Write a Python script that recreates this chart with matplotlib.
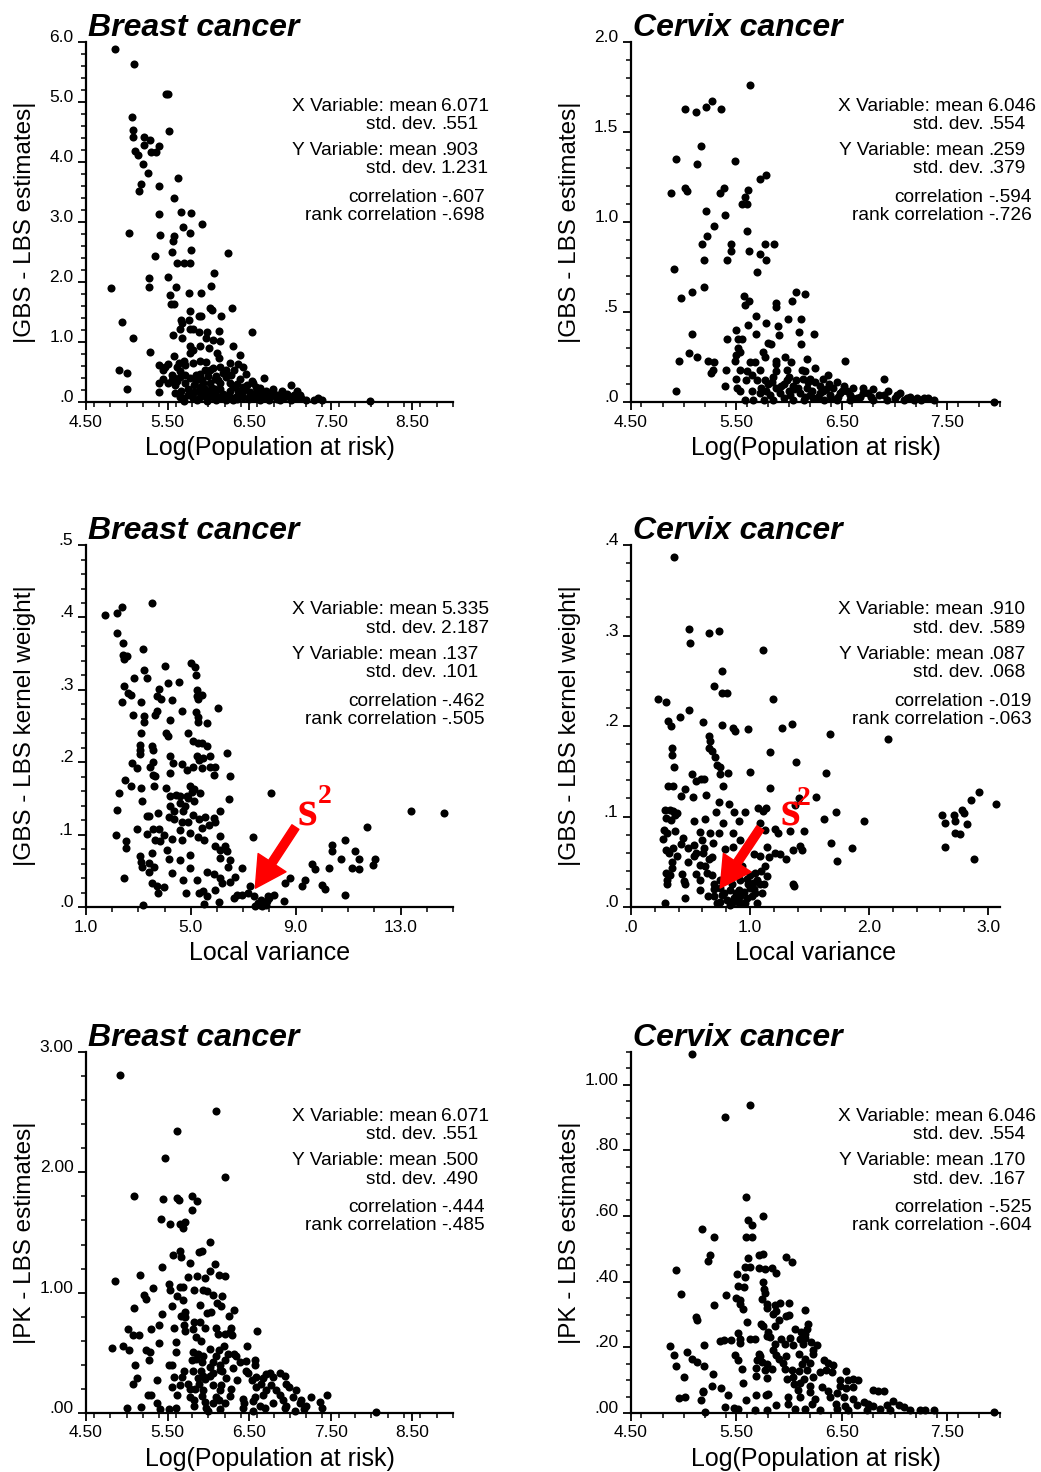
import numpy as np
import matplotlib
matplotlib.use('Agg')
import matplotlib.pyplot as plt
from matplotlib.ticker import MultipleLocator, FixedLocator

plt.rcParams['font.family'] = ['Liberation Sans', 'DejaVu Sans']

# ---------------- data ----------------
# Breast cancer: |GBS - LBS estimates| vs Log(Population at risk)
breastGbsPop = np.array([
    (4.86, 5.89), (5.09, 5.64), (5.48, 5.14), (5.50, 5.13), (5.07, 4.75), (5.08, 4.53), (5.08, 4.42), (5.52, 4.52),
    (5.21, 4.42), (5.28, 4.36), (5.21, 4.28), (5.40, 4.27), (5.30, 4.17), (5.36, 4.17), (5.10, 4.19), (5.14, 4.11),
    (5.20, 3.96), (5.26, 3.82), (5.17, 3.63), (5.15, 3.51), (5.39, 3.60), (5.63, 3.74), (5.58, 3.40), (5.40, 3.14),
    (5.67, 3.16), (5.79, 3.15), (5.92, 2.96), (5.69, 2.92), (5.78, 2.82), (5.41, 2.79), (5.03, 2.82), (5.58, 2.76),
    (5.57, 2.68), (5.55, 2.50), (5.79, 2.53), (6.24, 2.49), (5.35, 2.43), (5.62, 2.31), (5.70, 2.31), (5.77, 2.32),
    (6.07, 2.15), (5.27, 2.07), (5.51, 2.09), (5.27, 1.92), (5.60, 1.92), (6.03, 1.93), (4.81, 1.90), (5.53, 1.79),
    (5.76, 1.81), (5.91, 1.82), (5.54, 1.64), (5.58, 1.63), (6.02, 1.56), (6.04, 1.54), (6.29, 1.56), (5.78, 1.52),
    (5.88, 1.44), (5.91, 1.44), (6.15, 1.43), (5.66, 1.36), (5.76, 1.36), (4.94, 1.33), (5.68, 1.31), (5.65, 1.22),
    (5.77, 1.22), (5.81, 1.21), (5.88, 1.16), (5.98, 1.17), (6.13, 1.19), (6.54, 1.16), (5.57, 1.12), (5.68, 1.07),
    (5.97, 1.06), (5.08, 1.07), (6.06, 1.03), (6.14, 1.01), (5.78, 0.93), (5.90, 0.93), (6.30, 0.93), (6.01, 0.90),
    (5.81, 0.86), (5.28, 0.84), (6.11, 0.82), (5.77, 0.81), (6.39, 0.79), (5.58, 0.77), (5.70, 0.69), (5.90, 0.69),
    (5.97, 0.67), (6.13, 0.74), (5.64, 0.65), (5.81, 0.65), (6.26, 0.65), (5.39, 0.62), (5.47, 0.59), (5.50, 0.63),
    (5.61, 0.59), (5.72, 0.62), (6.37, 0.63), (6.43, 0.58), (6.06, 0.57), (6.14, 0.58), (4.91, 0.53), (5.00, 0.48),
    (5.45, 0.54), (5.65, 0.52), (5.96, 0.53), (6.22, 0.54), (6.32, 0.53), (6.68, 0.40), (5.45, 0.38), (5.57, 0.42),
    (5.65, 0.42), (5.77, 0.40), (5.90, 0.42), (6.00, 0.43), (6.10, 0.44), (6.22, 0.42), (6.39, 0.38), (6.54, 0.35),
    (5.40, 0.31), (5.50, 0.31), (5.59, 0.28), (5.71, 0.31), (5.83, 0.28), (5.94, 0.32), (6.02, 0.31), (6.14, 0.31),
    (6.26, 0.32), (6.47, 0.29), (6.59, 0.25), (6.63, 0.24), (7.01, 0.28), (5.00, 0.22), (5.40, 0.16), (5.59, 0.15),
    (5.67, 0.19), (5.83, 0.17), (5.96, 0.21), (6.04, 0.18), (6.14, 0.21), (6.26, 0.18), (6.37, 0.19), (6.51, 0.17),
    (6.71, 0.18), (6.79, 0.17), (6.90, 0.18), (7.09, 0.18), (5.65, 0.08), (5.69, 0.06), (5.81, 0.06), (5.90, 0.08),
    (5.98, 0.07), (6.06, 0.08), (6.16, 0.07), (6.24, 0.08), (6.32, 0.07), (6.43, 0.08), (6.55, 0.07), (6.67, 0.08),
    (6.75, 0.07), (6.83, 0.08), (6.92, 0.07), (7.00, 0.08), (7.06, 0.06), (7.14, 0.06), (7.20, 0.03), (7.30, 0.03),
    (7.34, 0.06), (7.39, 0.03), (7.98, 0.01), (5.86, 0.03), (5.98, 0.02), (6.10, 0.03), (6.22, 0.03), (6.30, 0.03),
    (6.63, 0.03), (6.88, 0.03), (5.90, 0.47), (6.02, 0.53), (6.12, 0.36), (6.30, 0.25), (6.46, 0.47), (6.55, 0.31),
    (6.79, 0.22), (6.90, 0.11), (6.96, 0.14), (7.12, 0.11), (6.51, 0.14), (6.39, 0.14), (6.18, 0.14), (5.90, 0.25),
    (5.75, 0.22), (5.55, 0.36), (5.85, 0.36), (6.05, 0.24), (6.20, 0.10), (6.35, 0.10), (6.45, 0.22), (6.60, 0.12),
    (6.70, 0.10), (6.85, 0.12), (5.95, 0.12), (5.75, 0.12), (6.10, 0.12), (5.55, 0.45), (5.62, 0.35), (5.72, 0.45),
    (5.85, 0.45), (5.92, 0.36), (6.08, 0.38), (6.18, 0.48), (6.28, 0.45), (6.35, 0.30), (6.42, 0.25), (5.80, 0.12),
    (5.88, 0.18), (6.00, 0.14), (6.08, 0.22), (6.25, 0.12), (6.42, 0.18), (6.60, 0.18), (6.66, 0.14), (6.75, 0.13),
    (6.95, 0.10), (7.05, 0.12), (6.50, 0.05), (6.75, 0.04), (7.02, 0.03), (5.70, 0.02), (5.78, 0.15), (6.35, 0.05),
    (6.58, 0.09), (6.84, 0.05)])

# Cervix cancer: |GBS - LBS estimates| vs Log(Population at risk)
cervixGbsPop = np.array([
    (5.63, 1.76), (5.01, 1.63), (5.12, 1.61), (5.21, 1.64), (5.27, 1.67), (5.35, 1.63), (5.16, 1.42), (4.93, 1.35),
    (5.13, 1.32), (5.49, 1.34), (5.78, 1.26), (5.72, 1.24), (4.88, 1.16), (5.01, 1.19), (5.03, 1.17), (5.38, 1.19),
    (5.34, 1.16), (5.61, 1.18), (5.58, 1.14), (5.55, 1.10), (5.60, 1.10), (5.21, 1.06), (5.39, 1.04), (5.29, 0.98),
    (5.60, 0.95), (5.22, 0.92), (5.17, 0.88), (5.45, 0.88), (5.45, 0.84), (5.77, 0.88), (5.86, 0.88), (5.62, 0.84),
    (5.72, 0.82), (5.78, 0.79), (5.41, 0.79), (5.19, 0.79), (4.91, 0.74), (5.70, 0.72), (5.19, 0.64), (5.08, 0.61),
    (4.97, 0.58), (6.07, 0.61), (6.15, 0.60), (5.57, 0.59), (5.58, 0.54), (5.62, 0.56), (5.88, 0.55), (5.88, 0.53),
    (6.03, 0.56), (5.69, 0.48), (5.99, 0.46), (6.11, 0.46), (5.78, 0.44), (5.61, 0.43), (5.89, 0.42), (5.50, 0.40),
    (5.08, 0.38), (6.09, 0.39), (6.24, 0.38), (5.69, 0.38), (5.90, 0.37), (5.41, 0.35), (5.52, 0.35), (5.55, 0.35),
    (5.80, 0.33), (5.83, 0.32), (6.11, 0.32), (5.52, 0.30), (5.53, 0.28), (5.75, 0.28), (5.50, 0.26), (5.05, 0.27),
    (5.13, 0.25), (5.77, 0.25), (5.96, 0.25), (4.96, 0.23), (5.23, 0.23), (5.29, 0.22), (5.49, 0.23), (5.63, 0.22),
    (5.68, 0.22), (5.88, 0.23), (6.17, 0.24), (6.53, 0.23), (6.02, 0.22), (6.25, 0.19), (5.88, 0.21), (5.72, 0.18),
    (5.53, 0.18), (5.40, 0.18), (5.26, 0.16), (5.28, 0.18), (5.60, 0.17), (5.88, 0.17), (5.98, 0.18), (6.12, 0.18),
    (6.15, 0.17), (6.37, 0.15), (6.32, 0.13), (6.90, 0.13), (5.50, 0.13), (5.59, 0.12), (5.77, 0.12), (5.85, 0.14),
    (5.98, 0.12), (6.07, 0.12), (6.20, 0.13), (5.39, 0.09), (5.51, 0.08), (5.65, 0.06), (5.53, 0.06), (5.73, 0.08),
    (5.88, 0.08), (6.04, 0.09), (6.17, 0.08), (6.29, 0.09), (6.42, 0.08), (6.52, 0.09), (6.61, 0.08), (6.80, 0.07),
    (4.93, 0.06), (5.72, 0.05), (5.82, 0.04), (5.91, 0.05), (6.01, 0.04), (6.10, 0.05), (6.20, 0.04), (6.29, 0.05),
    (6.39, 0.04), (6.48, 0.05), (6.58, 0.04), (6.67, 0.03), (6.75, 0.05), (6.85, 0.04), (6.94, 0.06), (7.02, 0.04),
    (7.12, 0.02), (7.21, 0.02), (7.28, 0.02), (7.37, 0.01), (7.94, 0.00), (5.58, 0.01), (5.66, 0.01), (5.76, 0.01),
    (5.85, 0.01), (5.95, 0.02), (6.04, 0.01), (6.14, 0.01), (6.23, 0.02), (6.33, 0.01), (6.45, 0.01), (6.58, 0.01),
    (6.64, 0.02), (6.80, 0.01), (6.93, 0.01), (7.09, 0.01), (7.18, 0.01), (5.95, 0.10), (6.05, 0.07), (6.25, 0.11),
    (6.35, 0.07), (6.45, 0.11), (6.55, 0.06), (6.70, 0.05), (5.80, 0.10), (6.15, 0.03), (6.40, 0.02), (5.92, 0.09),
    (6.00, 0.14), (6.08, 0.08), (6.13, 0.13), (6.22, 0.06), (6.27, 0.03), (6.32, 0.06), (6.38, 0.10), (6.50, 0.06),
    (6.60, 0.02), (6.70, 0.08), (6.78, 0.03), (6.90, 0.04), (7.00, 0.02), (7.05, 0.05), (7.15, 0.03), (7.25, 0.01),
    (7.32, 0.02), (5.78, 0.06), (5.84, 0.11), (5.70, 0.12), (5.65, 0.15), (6.00, 0.06), (6.18, 0.11), (6.46, 0.03)])

# Breast cancer: |GBS - LBS kernel weight| vs Local variance
breastKernVar = np.array([
    (1.73, 0.403), (2.20, 0.406), (2.39, 0.414), (3.51, 0.420), (2.20, 0.378), (2.43, 0.365), (3.19, 0.356), (2.40, 0.348),
    (2.55, 0.347), (2.45, 0.342), (5.00, 0.337), (5.17, 0.332), (4.02, 0.333), (3.23, 0.327), (5.21, 0.320), (2.85, 0.316),
    (3.32, 0.316), (4.53, 0.311), (4.11, 0.310), (2.46, 0.306), (5.23, 0.300), (3.78, 0.301), (2.62, 0.296), (2.71, 0.293),
    (3.70, 0.291), (3.85, 0.287), (4.27, 0.286), (5.23, 0.291), (5.42, 0.293), (5.29, 0.287), (2.39, 0.283), (3.09, 0.283),
    (6.02, 0.275), (4.66, 0.271), (3.70, 0.271), (5.21, 0.270), (5.26, 0.263), (2.81, 0.265), (3.22, 0.264), (3.64, 0.265),
    (4.21, 0.258), (5.61, 0.254), (5.29, 0.256), (3.22, 0.255), (3.09, 0.241), (4.06, 0.241), (4.91, 0.241), (4.11, 0.236),
    (5.10, 0.229), (5.27, 0.227), (5.42, 0.226), (5.61, 0.222), (3.06, 0.224), (3.51, 0.223), (3.06, 0.217), (3.55, 0.217),
    (6.38, 0.213), (3.06, 0.212), (4.21, 0.208), (5.74, 0.208), (5.23, 0.208), (2.75, 0.199), (3.54, 0.200), (3.45, 0.194),
    (2.94, 0.192), (4.31, 0.199), (4.66, 0.197), (5.10, 0.193), (5.33, 0.203), (5.48, 0.206), (5.42, 0.192), (5.74, 0.193),
    (5.93, 0.194), (4.21, 0.185), (3.55, 0.182), (3.64, 0.181), (4.85, 0.189), (5.87, 0.183), (6.48, 0.181), (2.49, 0.176),
    (2.71, 0.167), (3.09, 0.164), (3.60, 0.167), (4.04, 0.164), (2.27, 0.158), (3.13, 0.147), (4.97, 0.167), (5.03, 0.159),
    (5.14, 0.163), (5.36, 0.157), (8.07, 0.158), (4.44, 0.155), (4.21, 0.153), (4.59, 0.153), (4.85, 0.153), (4.91, 0.150),
    (6.44, 0.149), (4.59, 0.144), (4.78, 0.139), (4.21, 0.139), (5.13, 0.146), (4.34, 0.132), (4.69, 0.132), (13.41, 0.133),
    (14.66, 0.130), (2.17, 0.134), (3.32, 0.126), (3.42, 0.126), (3.76, 0.130), (4.15, 0.125), (4.34, 0.121), (5.10, 0.127),
    (5.55, 0.125), (5.87, 0.123), (6.10, 0.132), (4.66, 0.118), (4.91, 0.117), (5.33, 0.121), (5.42, 0.109), (5.71, 0.114),
    (5.93, 0.118), (2.96, 0.108), (3.55, 0.108), (3.80, 0.108), (4.59, 0.107), (11.73, 0.110), (2.15, 0.100), (3.32, 0.101),
    (3.96, 0.099), (4.97, 0.102), (5.29, 0.097), (5.51, 0.093), (6.10, 0.098), (7.37, 0.097), (3.64, 0.093), (4.30, 0.094),
    (4.66, 0.093), (2.53, 0.091), (10.90, 0.092), (10.39, 0.086), (2.53, 0.081), (3.83, 0.091), (5.93, 0.084), (6.31, 0.084),
    (6.38, 0.078), (6.10, 0.079), (10.39, 0.077), (11.28, 0.077), (4.08, 0.079), (3.06, 0.071), (3.51, 0.074), (4.97, 0.072),
    (11.41, 0.066), (12.01, 0.066), (10.73, 0.066), (4.18, 0.066), (4.59, 0.065), (6.12, 0.068), (6.48, 0.065), (3.10, 0.062),
    (3.41, 0.061), (9.62, 0.059), (11.96, 0.058), (3.12, 0.055), (3.60, 0.055), (4.95, 0.054), (6.41, 0.055), (6.95, 0.054),
    (9.75, 0.052), (10.26, 0.054), (11.15, 0.054), (11.41, 0.052), (3.42, 0.048), (4.27, 0.047), (5.61, 0.049), (5.87, 0.045),
    (2.46, 0.040), (4.72, 0.038), (5.23, 0.038), (6.12, 0.040), (6.69, 0.042), (8.80, 0.040), (9.37, 0.038), (3.51, 0.033),
    (3.70, 0.029), (3.96, 0.028), (6.18, 0.033), (6.50, 0.035), (8.61, 0.033), (9.24, 0.029), (10.01, 0.031), (10.13, 0.025),
    (7.27, 0.029), (3.73, 0.019), (4.82, 0.020), (5.33, 0.019), (5.48, 0.022), (5.61, 0.015), (5.93, 0.024), (6.63, 0.012),
    (6.78, 0.017), (6.95, 0.017), (7.20, 0.019), (7.42, 0.015), (7.97, 0.012), (8.18, 0.017), (8.54, 0.008), (10.90, 0.017),
    (3.17, 0.003), (5.51, 0.004), (6.06, 0.007), (7.46, 0.002), (7.62, 0.003), (7.78, 0.006), (7.90, 0.009), (7.71, 0.001),
    (7.55, 0.005), (7.85, 0.003), (7.68, 0.010), (7.95, 0.015)])

# Cervix cancer: |GBS - LBS kernel weight| vs Local variance
cervixKernVar = np.array([
    (0.365, 0.387), (0.489, 0.307), (0.498, 0.292), (0.658, 0.303), (0.742, 0.305), (1.108, 0.284), (0.765, 0.261), (0.694, 0.244),
    (0.765, 0.236), (0.807, 0.237), (0.225, 0.230), (0.292, 0.227), (1.195, 0.230), (0.484, 0.218), (0.413, 0.210), (0.309, 0.206),
    (0.337, 0.200), (0.602, 0.204), (0.765, 0.201), (0.855, 0.198), (0.877, 0.195), (0.984, 0.197), (1.265, 0.198), (1.355, 0.202),
    (0.658, 0.189), (0.661, 0.183), (1.673, 0.191), (2.156, 0.186), (0.343, 0.176), (0.652, 0.176), (0.680, 0.172), (1.172, 0.171),
    (0.343, 0.168), (0.708, 0.166), (1.383, 0.160), (0.365, 0.155), (0.722, 0.157), (0.750, 0.155), (0.815, 0.148), (0.745, 0.147),
    (0.998, 0.149), (1.636, 0.148), (0.517, 0.147), (0.610, 0.142), (0.545, 0.139), (0.588, 0.141), (0.309, 0.134), (0.357, 0.134),
    (0.773, 0.134), (1.167, 0.132), (0.455, 0.130), (0.422, 0.123), (0.520, 0.122), (0.630, 0.124), (1.552, 0.122), (1.411, 0.120),
    (0.742, 0.116), (0.827, 0.114), (1.377, 0.113), (1.068, 0.110), (1.138, 0.110), (1.108, 0.106), (2.921, 0.127), (2.853, 0.118),
    (3.070, 0.114), (2.780, 0.107), (0.287, 0.107), (0.329, 0.107), (0.357, 0.106), (0.385, 0.104), (0.292, 0.098), (0.337, 0.096),
    (0.374, 0.102), (0.717, 0.105), (0.863, 0.105), (0.962, 0.105), (1.721, 0.105), (2.612, 0.102), (2.713, 0.102), (2.797, 0.104),
    (0.526, 0.095), (0.624, 0.097), (0.773, 0.093), (0.905, 0.095), (1.082, 0.093), (1.623, 0.097), (1.954, 0.095), (2.640, 0.093),
    (2.718, 0.095), (2.825, 0.092), (0.281, 0.085), (0.301, 0.082), (0.371, 0.084), (0.582, 0.083), (0.666, 0.082), (0.742, 0.082),
    (0.855, 0.082), (1.122, 0.085), (1.214, 0.086), (1.234, 0.082), (1.335, 0.084), (1.453, 0.084), (2.718, 0.082), (2.761, 0.081),
    (0.273, 0.075), (0.436, 0.076), (0.596, 0.074), (0.686, 0.071), (0.919, 0.074), (1.678, 0.071), (0.526, 0.069), (0.610, 0.065),
    (0.793, 0.064), (0.857, 0.066), (1.144, 0.066), (1.420, 0.067), (1.861, 0.065), (2.640, 0.066), (1.434, 0.063), (0.292, 0.063),
    (0.357, 0.065), (0.323, 0.060), (0.385, 0.056), (0.526, 0.056), (0.605, 0.060), (0.652, 0.053), (1.032, 0.059), (1.088, 0.056),
    (1.158, 0.055), (1.214, 0.060), (1.251, 0.059), (1.304, 0.053), (1.363, 0.063), (1.729, 0.051), (2.881, 0.053), (0.343, 0.050),
    (0.478, 0.050), (0.582, 0.047), (0.807, 0.049), (0.872, 0.045), (1.130, 0.045), (1.096, 0.040), (0.343, 0.043), (0.292, 0.038),
    (0.329, 0.035), (0.427, 0.036), (0.548, 0.036), (0.638, 0.038), (0.680, 0.035), (1.046, 0.038), (1.144, 0.034), (0.301, 0.030),
    (0.447, 0.029), (0.455, 0.025), (0.582, 0.030), (0.976, 0.031), (1.023, 0.027), (1.116, 0.026), (1.363, 0.026), (1.369, 0.023),
    (0.301, 0.025), (0.582, 0.019), (0.694, 0.020), (0.750, 0.021), (0.835, 0.019), (0.905, 0.019), (0.947, 0.017), (1.004, 0.021),
    (1.046, 0.015), (1.102, 0.015), (0.455, 0.010), (0.694, 0.012), (0.765, 0.013), (0.807, 0.008), (0.863, 0.010), (0.919, 0.012),
    (0.976, 0.010), (1.018, 0.012), (1.060, 0.004), (0.722, 0.004), (0.849, 0.004), (0.905, 0.004), (0.962, 0.004), (0.287, 0.004),
    (0.750, 0.006), (0.800, 0.030), (0.850, 0.025), (0.880, 0.015), (0.920, 0.030), (0.950, 0.005), (0.780, 0.015), (0.830, 0.002),
    (0.900, 0.008), (0.980, 0.025), (1.000, 0.035), (1.030, 0.020), (0.750, 0.030), (0.700, 0.025), (1.060, 0.030), (0.870, 0.040),
    (0.650, 0.012), (1.080, 0.025), (0.930, 0.045), (0.680, 0.055), (0.620, 0.045), (0.550, 0.060), (0.480, 0.065), (0.420, 0.070)])

# Breast cancer: |PK - LBS estimates| vs Log(Population at risk)
breastPkPop = np.array([
    (4.92, 2.81), (6.09, 2.51), (5.61, 2.34), (5.47, 2.12), (6.21, 1.96), (5.09, 1.80), (5.44, 1.78), (5.61, 1.79),
    (5.64, 1.77), (5.80, 1.80), (5.86, 1.76), (5.80, 1.69), (5.42, 1.61), (5.53, 1.57), (5.65, 1.57), (5.72, 1.59),
    (5.69, 1.54), (6.02, 1.42), (5.89, 1.34), (5.92, 1.35), (5.65, 1.35), (5.57, 1.31), (5.67, 1.30), (5.77, 1.25),
    (6.08, 1.24), (5.43, 1.21), (6.02, 1.18), (4.86, 1.10), (5.16, 1.15), (5.75, 1.13), (5.86, 1.14), (5.96, 1.12),
    (6.13, 1.15), (6.21, 1.14), (5.52, 1.07), (5.65, 1.05), (5.69, 1.05), (5.32, 1.04), (5.83, 1.02), (5.94, 1.02),
    (5.99, 1.01), (5.53, 1.02), (5.61, 0.97), (5.69, 0.94), (6.06, 0.98), (6.17, 0.97), (5.21, 0.98), (5.23, 0.95),
    (6.11, 0.91), (6.15, 0.89), (5.90, 0.90), (5.09, 0.87), (5.55, 0.89), (6.31, 0.86), (5.72, 0.84), (5.99, 0.83),
    (6.03, 0.84), (5.43, 0.82), (5.67, 0.81), (6.25, 0.81), (5.72, 0.80), (5.90, 0.76), (5.83, 0.76), (5.70, 0.73),
    (5.40, 0.73), (6.28, 0.71), (5.96, 0.71), (6.10, 0.71), (5.01, 0.70), (5.30, 0.70), (5.58, 0.71), (5.72, 0.68),
    (5.81, 0.70), (6.26, 0.67), (6.21, 0.66), (6.29, 0.65), (5.08, 0.65), (5.15, 0.65), (6.60, 0.68), (5.85, 0.63),
    (6.12, 0.66), (5.60, 0.59), (5.40, 0.58), (5.91, 0.60), (6.19, 0.56), (6.48, 0.56), (4.82, 0.54), (4.96, 0.56),
    (5.03, 0.52), (5.23, 0.52), (5.28, 0.51), (6.02, 0.53), (6.13, 0.52), (5.60, 0.51), (5.81, 0.51), (5.87, 0.49),
    (5.94, 0.47), (5.85, 0.45), (6.09, 0.47), (6.24, 0.49), (6.31, 0.49), (6.34, 0.47), (5.27, 0.44), (5.80, 0.44),
    (6.20, 0.44), (5.10, 0.40), (5.52, 0.40), (5.56, 0.40), (5.92, 0.42), (6.06, 0.42), (6.14, 0.40), (6.39, 0.42),
    (6.46, 0.43), (6.57, 0.44), (6.57, 0.40), (6.02, 0.38), (5.70, 0.35), (5.81, 0.35), (5.91, 0.35), (6.14, 0.36),
    (6.17, 0.35), (6.30, 0.37), (6.46, 0.35), (5.94, 0.31), (6.02, 0.31), (6.06, 0.33), (6.49, 0.33), (6.59, 0.30),
    (6.71, 0.32), (6.76, 0.33), (6.88, 0.33), (6.94, 0.31), (5.12, 0.29), (5.58, 0.30), (5.68, 0.30), (5.87, 0.29),
    (5.96, 0.28), (6.22, 0.29), (6.35, 0.27), (6.53, 0.27), (6.67, 0.29), (6.79, 0.30), (5.37, 0.27), (5.08, 0.24),
    (5.75, 0.24), (5.89, 0.24), (6.06, 0.23), (6.15, 0.23), (6.65, 0.24), (6.77, 0.23), (6.95, 0.24), (6.99, 0.22),
    (5.65, 0.23), (5.77, 0.20), (5.84, 0.20), (5.94, 0.19), (6.14, 0.19), (6.28, 0.20), (6.59, 0.22), (6.71, 0.19),
    (6.83, 0.19), (7.08, 0.19), (5.55, 0.22), (5.26, 0.15), (5.30, 0.15), (5.61, 0.15), (5.78, 0.13), (5.92, 0.14),
    (6.09, 0.13), (6.26, 0.14), (6.57, 0.13), (6.67, 0.15), (6.88, 0.15), (7.04, 0.13), (7.26, 0.13), (7.45, 0.15),
    (5.82, 0.11), (5.96, 0.09), (6.13, 0.11), (6.43, 0.12), (6.55, 0.10), (6.92, 0.11), (7.14, 0.11), (7.37, 0.09),
    (5.37, 0.08), (5.82, 0.06), (6.06, 0.08), (6.21, 0.08), (6.44, 0.08), (6.63, 0.06), (6.79, 0.08), (6.95, 0.06),
    (7.12, 0.08), (7.20, 0.06), (5.00, 0.04), (5.18, 0.05), (5.41, 0.03), (5.52, 0.03), (5.60, 0.04), (5.97, 0.04),
    (6.00, 0.02), (6.14, 0.03), (6.43, 0.04), (6.55, 0.02), (6.69, 0.04), (6.94, 0.04), (7.06, 0.02), (7.17, 0.03),
    (7.39, 0.04), (8.06, 0.01)])

# Cervix cancer: |PK - LBS estimates| vs Log(Population at risk)
cervixPkPop = np.array([
    (5.08, 1.095), (5.63, 0.938), (5.39, 0.903), (5.59, 0.659), (5.75, 0.601), (5.61, 0.588), (5.65, 0.573), (5.17, 0.561),
    (5.29, 0.536), (5.59, 0.536), (5.65, 0.536), (5.25, 0.482), (5.23, 0.462), (5.71, 0.482), (5.75, 0.485), (5.97, 0.475),
    (6.03, 0.459), (4.93, 0.436), (5.61, 0.473), (5.58, 0.444), (5.63, 0.446), (5.71, 0.441), (5.77, 0.439), (5.84, 0.442),
    (5.88, 0.427), (5.51, 0.424), (5.58, 0.414), (5.75, 0.399), (5.52, 0.388), (5.57, 0.383), (4.97, 0.363), (5.40, 0.360),
    (5.76, 0.378), (5.77, 0.365), (5.50, 0.351), (5.53, 0.343), (5.74, 0.348), (5.79, 0.333), (5.29, 0.330), (5.53, 0.333),
    (5.87, 0.330), (5.91, 0.335), (6.00, 0.336), (6.15, 0.314), (5.56, 0.317), (5.79, 0.319), (5.88, 0.312), (5.85, 0.302),
    (5.60, 0.277), (5.73, 0.272), (5.75, 0.264), (5.12, 0.294), (5.13, 0.282), (5.90, 0.282), (5.97, 0.297), (6.00, 0.300),
    (6.18, 0.272), (6.17, 0.257), (5.80, 0.246), (5.79, 0.236), (5.87, 0.264), (6.06, 0.255), (6.11, 0.246), (6.15, 0.241),
    (5.34, 0.219), (5.38, 0.221), (5.45, 0.221), (5.52, 0.243), (5.53, 0.226), (5.63, 0.226), (5.68, 0.226), (5.82, 0.231),
    (5.92, 0.226), (6.01, 0.228), (6.10, 0.226), (6.15, 0.228), (6.21, 0.216), (5.19, 0.208), (5.53, 0.213), (5.87, 0.211),
    (5.96, 0.211), (6.04, 0.206), (6.13, 0.211), (6.26, 0.206), (6.23, 0.193), (4.87, 0.203), (4.91, 0.177), (4.93, 0.142),
    (5.03, 0.186), (5.08, 0.165), (5.13, 0.155), (5.19, 0.142), (5.28, 0.120), (5.00, 0.110), (5.18, 0.064), (4.96, 0.047),
    (5.01, 0.049), (5.16, 0.039), (5.49, 0.177), (5.85, 0.191), (5.88, 0.177), (5.90, 0.165), (5.71, 0.181), (5.72, 0.175),
    (5.97, 0.175), (6.09, 0.181), (6.23, 0.181), (6.33, 0.160), (6.37, 0.152), (6.42, 0.147), (6.15, 0.165), (5.52, 0.160),
    (5.70, 0.160), (5.74, 0.155), (5.79, 0.150), (5.94, 0.152), (6.20, 0.152), (6.12, 0.150), (5.55, 0.135), (5.69, 0.138),
    (5.77, 0.130), (5.84, 0.135), (5.96, 0.135), (6.03, 0.130), (6.09, 0.127), (6.17, 0.130), (6.29, 0.125), (6.35, 0.130),
    (6.41, 0.125), (6.54, 0.127), (5.69, 0.112), (5.79, 0.108), (5.98, 0.104), (6.04, 0.110), (6.14, 0.104), (6.23, 0.110),
    (6.48, 0.099), (6.56, 0.101), (6.61, 0.104), (6.65, 0.099), (5.56, 0.091), (6.05, 0.089), (6.10, 0.091), (6.20, 0.082),
    (6.31, 0.079), (6.48, 0.081), (6.54, 0.076), (6.61, 0.079), (5.18, 0.067), (5.27, 0.081), (5.35, 0.076), (6.08, 0.069),
    (6.20, 0.064), (6.37, 0.066), (6.45, 0.061), (6.80, 0.069), (6.84, 0.067), (6.90, 0.066), (5.42, 0.054), (5.69, 0.054),
    (5.78, 0.054), (5.80, 0.057), (5.99, 0.049), (6.10, 0.049), (6.25, 0.044), (6.39, 0.049), (6.52, 0.049), (6.61, 0.044),
    (6.71, 0.033), (6.99, 0.037), (5.59, 0.039), (5.99, 0.026), (5.88, 0.023), (6.22, 0.026), (6.44, 0.028), (6.53, 0.020),
    (6.64, 0.023), (6.75, 0.028), (6.80, 0.020), (6.93, 0.025), (7.04, 0.023), (7.09, 0.018), (5.39, 0.018), (5.48, 0.016),
    (5.52, 0.013), (5.68, 0.010), (5.79, 0.010), (5.20, 0.003), (6.06, 0.013), (6.15, 0.013), (6.29, 0.010), (6.45, 0.013),
    (6.74, 0.010), (6.86, 0.013), (6.96, 0.010), (7.15, 0.010), (7.24, 0.008), (7.29, 0.010), (7.37, 0.010), (7.94, 0.003),
    (6.56, 0.010)])

statLabels = ['X Variable: mean', 'std. dev.', 'Y Variable: mean', 'std. dev.', 'correlation', 'rank correlation']
breastGbsStats = ['6.071', '.551', '.903', '1.231', '-.607', '-.698']
cervixGbsStats = ['6.046', '.554', '.259', '.379', '-.594', '-.726']
breastKernStats = ['5.335', '2.187', '.137', '.101', '-.462', '-.505']
cervixKernStats = ['.910', '.589', '.087', '.068', '-.019', '-.063']
breastPkStats = ['6.071', '.551', '.500', '.490', '-.444', '-.485']
cervixPkStats = ['6.046', '.554', '.170', '.167', '-.525', '-.604']

popTicksBreast = [4.5, 5.5, 6.5, 7.5, 8.5]
popLabelsBreast = ['4.50', '5.50', '6.50', '7.50', '8.50']
popTicksCervix = [4.5, 5.5, 6.5, 7.5]
popLabelsCervix = ['4.50', '5.50', '6.50', '7.50']
varTicksBreast = [1.0, 5.0, 9.0, 13.0]
varLabelsBreast = ['1.0', '5.0', '9.0', '13.0']
varTicksCervix = [0.0, 1.0, 2.0, 3.0]
varLabelsCervix = ['.0', '1.0', '2.0', '3.0']

# s^2 arrows: (tail, head) in data units
arrowBreast = ((8.99, 0.1105), (7.46, 0.026))
arrowCervix = ((1.087, 0.0873), (0.750, 0.021))


# Drawing one scatter panel
def drawPanel(ax, pts, xlim, ylim, xticks, xlabels, yticks, ylabels, xminor, yminor,
              title, xlabel, ylabel, stats):
    ax.plot(pts[:, 0], pts[:, 1], 'o', ms=5.8, color='black', mew=0, clip_on=False, zorder=3)
    ax.set_xlim(*xlim)
    ax.set_ylim(*ylim)
    for s in ['top', 'right']:
        ax.spines[s].set_visible(False)
    for s in ['left', 'bottom']:
        ax.spines[s].set_linewidth(1.6)
    ax.xaxis.set_major_locator(FixedLocator(xticks))
    ax.set_xticklabels(xlabels)
    ax.yaxis.set_major_locator(FixedLocator(yticks))
    ax.set_yticklabels(ylabels)
    ax.xaxis.set_minor_locator(MultipleLocator(xminor))
    ax.yaxis.set_minor_locator(MultipleLocator(yminor))
    ax.tick_params(which='major', direction='out', length=6, width=1.3, labelsize=12.5, pad=3)
    ax.tick_params(which='minor', direction='out', length=3.5, width=1.1)
    for t in ax.get_yticklabels():
        t.set_verticalalignment('baseline')
    ax.set_xlabel(xlabel, fontsize=18)
    ax.xaxis.set_label_coords(0.5, -0.095)
    ax.set_ylabel(ylabel, fontsize=17.5)
    ax.yaxis.set_label_coords(-0.135, 0.5)
    ax.text(0.006, 1.017, title, transform=ax.transAxes, fontsize=23, fontweight='bold',
            fontstyle='italic', ha='left', va='baseline')
    rowsY = [0.809, 0.758, 0.686, 0.635, 0.556, 0.506]
    for lab, val, yy in zip(statLabels, stats, rowsY):
        ax.text(0.956, yy, lab, transform=ax.transAxes, fontsize=13.8, ha='right', va='baseline')
        ax.text(0.967, yy, val, transform=ax.transAxes, fontsize=13.8, ha='left', va='baseline')


def drawS2(ax, arrow, sPos, twoPos):
    (tx, ty), (hx, hy) = arrow
    ax.annotate('', xy=(hx, hy), xytext=(tx, ty),
                arrowprops=dict(arrowstyle='simple,head_length=1.1,head_width=1.2,tail_width=0.3',
                                color='red', mutation_scale=20, shrinkA=0, shrinkB=0), zorder=5)
    ax.text(sPos[0], sPos[1], 's', color='red', family='Liberation Serif', fontweight='bold',
            fontsize=36, ha='left', va='baseline', zorder=5)
    ax.text(twoPos[0], twoPos[1], '2', color='red', family='Liberation Serif', fontweight='bold',
            fontsize=20, ha='left', va='baseline', zorder=5)


fig = plt.figure(figsize=(10.41, 14.72), dpi=100)
leftL, leftR = 0.0826, 0.6061
wL, wR = 0.3525, 0.3545
ax1 = fig.add_axes([leftL, 0.7269, wL, 0.2446])
ax2 = fig.add_axes([leftR, 0.7269, wR, 0.2446])
ax3 = fig.add_axes([leftL, 0.3838, wL, 0.2459])
ax4 = fig.add_axes([leftR, 0.3838, wR, 0.2459])
ax5 = fig.add_axes([leftL, 0.0401, wL, 0.2452])
ax6 = fig.add_axes([leftR, 0.0401, wR, 0.2452])

popLabel = 'Log(Population at risk)'
drawPanel(ax1, breastGbsPop, (4.5, 9.0), (0, 6.0), popTicksBreast, popLabelsBreast,
          [0, 1, 2, 3, 4, 5, 6], ['.0', '1.0', '2.0', '3.0', '4.0', '5.0', '6.0'], 0.2, 0.2,
          'Breast cancer', popLabel, '|GBS - LBS estimates|', breastGbsStats)
drawPanel(ax2, cervixGbsPop, (4.5, 8.0), (0, 2.0), popTicksCervix, popLabelsCervix,
          [0, 0.5, 1.0, 1.5, 2.0], ['.0', '.5', '1.0', '1.5', '2.0'], 0.2, 0.1,
          'Cervix cancer', popLabel, '|GBS - LBS estimates|', cervixGbsStats)
drawPanel(ax3, breastKernVar, (1.0, 15.0), (0, 0.5), varTicksBreast, varLabelsBreast,
          [0, 0.1, 0.2, 0.3, 0.4, 0.5], ['.0', '.1', '.2', '.3', '.4', '.5'], 1.0, 0.02,
          'Breast cancer', 'Local variance', '|GBS - LBS kernel weight|', breastKernStats)
drawPanel(ax4, cervixKernVar, (0.0, 3.1), (0, 0.4), varTicksCervix, varLabelsCervix,
          [0, 0.1, 0.2, 0.3, 0.4], ['.0', '.1', '.2', '.3', '.4'], 0.2, 0.02,
          'Cervix cancer', 'Local variance', '|GBS - LBS kernel weight|', cervixKernStats)
drawPanel(ax5, breastPkPop, (4.5, 9.0), (0, 3.0), popTicksBreast, popLabelsBreast,
          [0, 1, 2, 3], ['.00', '1.00', '2.00', '3.00'], 0.2, 0.2,
          'Breast cancer', popLabel, '|PK - LBS estimates|', breastPkStats)
drawPanel(ax6, cervixPkPop, (4.5, 8.0), (0, 1.1), popTicksCervix, popLabelsCervix,
          [0, 0.2, 0.4, 0.6, 0.8, 1.0], ['.00', '.20', '.40', '.60', '.80', '1.00'], 0.2, 0.05,
          'Cervix cancer', popLabel, '|PK - LBS estimates|', cervixPkStats)

drawS2(ax3, arrowBreast, (9.06, 0.113), (9.83, 0.1436))
drawS2(ax4, arrowCervix, (1.255, 0.0906), (1.398, 0.1127))

fig.savefig('out.png', dpi=100)
